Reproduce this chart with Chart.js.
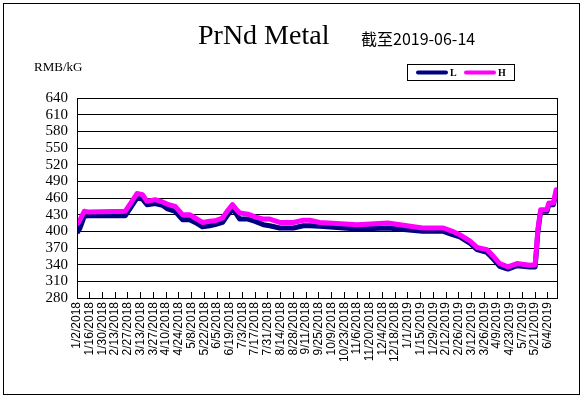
<!DOCTYPE html>
<html>
<head>
<meta charset="utf-8">
<script src="https://cdn.jsdelivr.net/npm/chart.js"></script>
<style>
  body { margin: 0; background: #fff; }
  canvas { display: block; }
</style>
</head>
<body>
<canvas id="prndChart" width="584" height="398"></canvas>
<script>

// readings, M/D/YYYY
var dates = [
  '1/2/2018', '1/5/2018', '1/10/2018', '1/14/2018', '2/24/2018', '3/1/2018', '3/9/2018', '3/15/2018',
  '3/20/2018', '3/29/2018', '4/6/2018', '4/11/2018', '4/20/2018', '4/28/2018', '5/6/2018', '5/12/2018',
  '5/20/2018', '5/28/2018', '6/3/2018', '6/11/2018', '6/17/2018', '6/22/2018', '6/26/2018', '6/30/2018',
  '7/9/2018', '7/17/2018', '7/26/2018', '8/2/2018', '8/13/2018', '8/28/2018', '9/8/2018', '9/15/2018',
  '9/26/2018', '10/15/2018', '11/6/2018', '12/10/2018', '1/17/2019', '2/9/2019', '2/19/2019', '2/27/2019',
  '3/10/2019', '3/18/2019', '3/29/2019', '4/5/2019', '4/12/2019', '4/21/2019', '5/1/2019', '5/15/2019',
  '5/21/2019', '5/24/2019', '5/27/2019', '6/3/2019', '6/5/2019', '6/10/2019', '6/13/2019', '6/14/2019'
];
var lowPrices = [
  397, 405, 427, 428, 428, 440, 460, 458,
  448, 450, 447, 441, 436, 421, 421, 416,
  408, 410, 412, 416, 430, 440, 432, 422,
  422, 418, 412, 410, 406, 406, 410, 410,
  409, 407, 404, 406, 400, 400, 394, 390,
  379, 367, 362, 350, 337, 332, 338, 336,
  336, 400, 436, 436, 448, 448, 469, 469
];
var highPrices = [
  412, 420, 436, 435, 436, 448, 468, 466,
  454, 457, 453, 449, 445, 430, 430, 424,
  416, 418, 419, 424, 438, 448, 440, 433,
  431, 426, 422, 422, 416, 416, 420, 420,
  416, 414, 412, 415, 406, 406, 400, 394,
  383, 371, 367, 355, 342, 336, 342, 339,
  340, 404, 439, 439, 451, 451, 475, 475
];
var tickDates = [
  '1/2/2018', '1/16/2018', '1/30/2018', '2/13/2018', '2/27/2018', '3/13/2018', '3/27/2018', '4/10/2018',
  '4/24/2018', '5/8/2018', '5/22/2018', '6/5/2018', '6/19/2018', '7/3/2018', '7/17/2018', '7/31/2018',
  '8/14/2018', '8/28/2018', '9/11/2018', '9/25/2018', '10/9/2018', '10/23/2018', '11/6/2018', '11/20/2018',
  '12/4/2018', '12/18/2018', '1/1/2019', '1/15/2019', '1/29/2019', '2/12/2019', '2/26/2019', '3/12/2019',
  '3/26/2019', '4/9/2019', '4/23/2019', '5/7/2019', '5/21/2019', '6/4/2019'
];
var yTicks = [280, 310, 340, 370, 400, 430, 460, 490, 520, 550, 580, 610, 640];
var seriesNames = ['L', 'H'];
var chartTitle = 'PrNd Metal';
var chartSubtitle = '截至2019-06-14';
var unitLabel = 'RMB/kG';
var firstDate = '1/2/2018';
var lastDate = '6/14/2019';

function toUtc(s) {
  var p = s.split('/');
  return Date.UTC(+p[2], +p[0] - 1, +p[1]);
}
// days since the first reading
function dayOf(s) {
  return Math.round((toUtc(s) - toUtc(firstDate)) / 86400000);
}
function labelOf(n) {
  var d = new Date(toUtc(firstDate) + n * 86400000);
  return (d.getUTCMonth() + 1) + '/' + d.getUTCDate() + '/' + d.getUTCFullYear();
}
function points(vals) {
  return dates.map(function (d, i) { return { x: dayOf(d), y: vals[i] }; });
}

var decorPlugin = {
  id: 'decor',
  beforeDraw: function (chart) {
    var ctx = chart.ctx;
    ctx.save();
    ctx.fillStyle = '#fff';
    ctx.fillRect(0, 0, chart.width, chart.height);
    ctx.restore();
  },
  afterDraw: function (chart) {
    var ctx = chart.ctx;
    var a = chart.chartArea;
    ctx.save();
    ctx.strokeStyle = '#000';
    ctx.lineWidth = 1;
    // plot box + outer frame
    ctx.strokeRect(Math.round(a.left) + 0.5, Math.round(a.top) + 0.5,
      Math.round(a.right - a.left), Math.round(a.bottom - a.top));
    ctx.strokeRect(3.5, 3.5, 576, 391);

    ctx.fillStyle = '#000';
    ctx.textBaseline = 'alphabetic';
    ctx.textAlign = 'left';
    ctx.font = '28px "Liberation Serif"';
    ctx.fillText(chartTitle, 198, 44);
    ctx.font = '16px "Noto Sans CJK SC"';
    ctx.fillText(chartSubtitle, 361, 45);
    ctx.font = '13px "Liberation Serif"';
    ctx.fillText(unitLabel, 34, 71);

    // legend box
    ctx.strokeRect(407.5, 64.5, 107, 16);
    ctx.font = 'bold 10px "Liberation Serif"';
    ctx.textBaseline = 'middle';
    chart.data.datasets.forEach(function (ds, i) {
      var lx = 418 + i * 48;
      ctx.strokeStyle = ds.borderColor;
      ctx.lineWidth = 4;
      ctx.lineCap = 'round';
      ctx.beginPath();
      ctx.moveTo(lx, 72.5);
      ctx.lineTo(lx + 28, 72.5);
      ctx.stroke();
      ctx.fillText(ds.label, lx + 32, 73.5);
    });
    ctx.restore();
  }
};

var ctx = document.getElementById('prndChart').getContext('2d');
var chart = new Chart(ctx, {
  type: 'line',
  data: {
    datasets: [{
      label: seriesNames[0],
      data: points(lowPrices),
      borderColor: '#000080',
      borderWidth: 5,
      pointRadius: 0,
      tension: 0,
      borderJoinStyle: 'round',
      order: 1
    }, {
      label: seriesNames[1],
      data: points(highPrices),
      borderColor: '#FF00FF',
      borderWidth: 5,
      pointRadius: 0,
      tension: 0,
      borderJoinStyle: 'round',
      order: 0
    }]
  },
  options: {
    responsive: false,
    animation: false,
    devicePixelRatio: 1,
    layout: { padding: { left: 0, top: 98, right: 27, bottom: 0 } },
    plugins: {
      legend: { display: false },
      title: { display: false },
      tooltip: { enabled: false }
    },
    scales: {
      x: {
        type: 'linear',
        min: 0,
        max: dayOf(lastDate),
        afterBuildTicks: function (axis) {
          axis.ticks = tickDates.map(function (d) { return { value: dayOf(d) }; });
        },
        afterFit: function (axis) { axis.height = 100; },
        ticks: {
          autoSkip: false,
          minRotation: 90,
          maxRotation: 90,
          padding: 10,
          color: '#000',
          font: { family: 'Liberation Sans', size: 12 },
          callback: function (v) { return labelOf(v); }
        },
        grid: { drawOnChartArea: false, tickLength: -6, color: '#000' },
        border: { color: '#000' }
      },
      y: {
        min: 280,
        max: 640,
        afterBuildTicks: function (axis) {
          axis.ticks = yTicks.map(function (v) { return { value: v }; });
        },
        afterFit: function (axis) { axis.width = 77; },
        ticks: {
          autoSkip: false,
          padding: 9,
          color: '#000',
          font: { family: 'Liberation Serif', size: 15 }
        },
        grid: { color: '#000', drawTicks: false },
        border: { color: '#000' }
      }
    }
  },
  plugins: [decorPlugin]
});

</script>
</body>
</html>
